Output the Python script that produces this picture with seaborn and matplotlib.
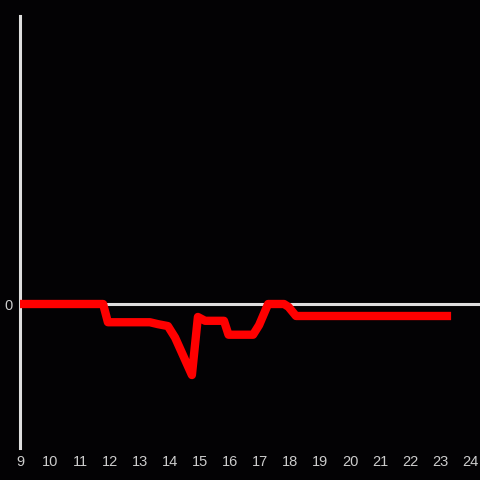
import pandas as pd
import matplotlib.pyplot as plt
import seaborn as sns

# hour of day vs. change
hours = [9.0, 11.77, 11.93, 13.33, 13.6, 13.93, 14.17, 14.73, 14.93, 15.17,
         15.8, 15.95, 16.77, 16.97, 17.27, 17.8, 17.95, 18.2, 23.37]
values = [0.0, 0.0, -1.9, -1.9, -2.1, -2.3, -3.5, -7.4, -1.35, -1.75,
          -1.75, -3.2, -3.2, -2.2, 0.0, 0.0, -0.3, -1.25, -1.25]
x_ticks = list(range(9, 25))

df = pd.DataFrame({"hour": hours, "value": values})

bg = "#030204"
sns.set_style("dark")
plt.rcParams["font.family"] = ["Liberation Sans", "DejaVu Sans"]

fig = plt.figure(figsize=(4.8, 4.8), dpi=100, facecolor=bg)
ax = fig.add_axes([20 / 480, 32 / 480, 460 / 480, 432 / 480])
ax.set_facecolor(bg)

ax.axhline(0, color="#dedede", lw=2.2, zorder=1)
sns.lineplot(data=df, x="hour", y="value", ax=ax, color="#ff0000",
             lw=6, solid_joinstyle="round", solid_capstyle="butt", zorder=3)

ax.set_xlim(9, 9 + 460 / 30)
ax.set_ylim(-15, 30)
ax.set_xticks(x_ticks)
ax.set_yticks([0])
ax.tick_params(length=0, colors="#cccccc", labelsize=10.5, pad=5)
ax.grid(False)
ax.set_xlabel("")
ax.set_ylabel("")
for side in ["top", "right", "bottom"]:
    ax.spines[side].set_visible(False)
ax.spines["left"].set_color("#dedede")
ax.spines["left"].set_linewidth(2.2)

fig.savefig("out.png", dpi=100, facecolor=bg)
